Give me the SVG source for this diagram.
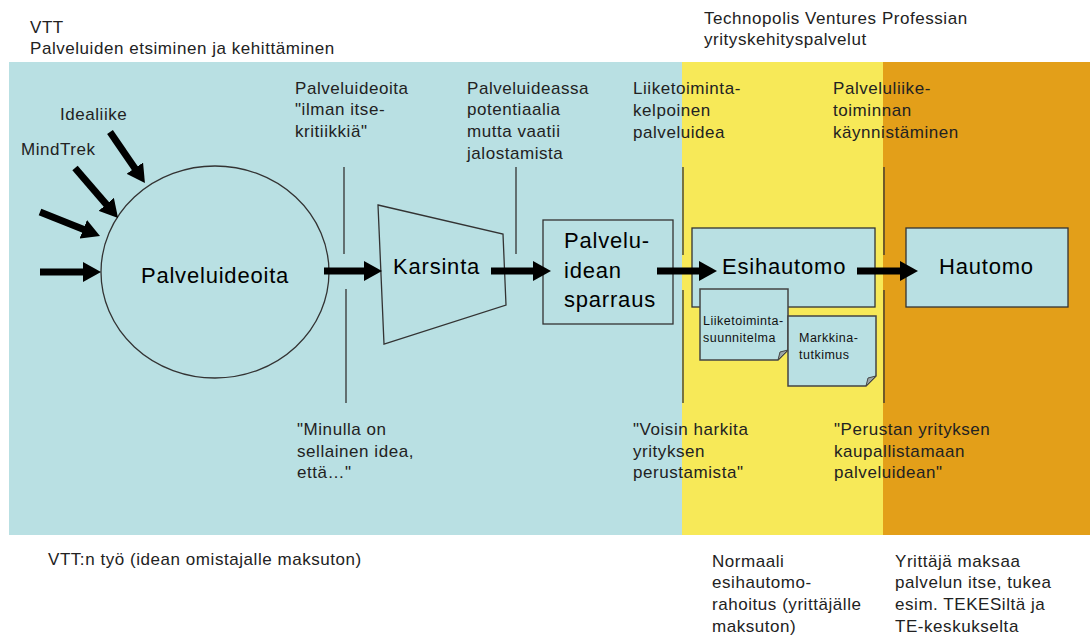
<svg xmlns="http://www.w3.org/2000/svg" width="1090" height="636" viewBox="0 0 1090 636">
<style>
text{font-family:"Liberation Sans",Arial,sans-serif;fill:#222}
.lbl{font-size:17px;letter-spacing:0.55px}
.big{font-size:22px;letter-spacing:0.8px;fill:#000}
.doc{font-size:12.5px;letter-spacing:0.5px;fill:#111}
.node{fill:#b9e0e3;stroke:#333;stroke-width:1.3}
.docshape{fill:#b9e0e3;stroke:#444;stroke-width:1.5}
.fold{fill:#9aa4a6;stroke:#444;stroke-width:1}
.tick{stroke:#333;stroke-width:1.3}
.arr{stroke:#000;stroke-width:7;fill:none;marker-end:url(#ah)}
</style>
<defs>
<marker id="ah" markerUnits="userSpaceOnUse" viewBox="0 0 18 20" refX="8" refY="10" markerWidth="18" markerHeight="20" orient="auto">
<path d="M0,0 L18,10 L0,20 z" fill="#000"/>
</marker>
</defs>
<rect width="1090" height="636" fill="#fff"/>
<g id="bands">
<rect x="9" y="62" width="673" height="473" fill="#b9e0e3"/>
<rect x="682" y="62" width="201" height="473" fill="#f7e958"/>
<rect x="883" y="62" width="207" height="473" fill="#e39f19"/>
</g>
<g id="headings">
<text class="lbl" x="30" y="33">VTT</text>
<text class="lbl" x="30" y="54">Palveluiden etsiminen ja kehittäminen</text>
<text class="lbl" x="704" y="24">Technopolis Ventures Professian</text>
<text class="lbl" x="704" y="45">yrityskehityspalvelut</text>
</g>
<g id="ticks">
<line class="tick" x1="344" y1="167" x2="344" y2="254"/>
<line class="tick" x1="346" y1="289" x2="346" y2="403"/>
<line class="tick" x1="516" y1="167" x2="516" y2="254"/>
<line class="tick" x1="683" y1="167" x2="683" y2="255"/>
<line class="tick" x1="683" y1="290" x2="683" y2="403"/>
<line class="tick" x1="884" y1="167" x2="884" y2="255"/>
<line class="tick" x1="884" y1="290" x2="884" y2="403"/>
</g>
<g id="stage-labels">
<text class="lbl" x="295" y="94">Palveluideoita</text>
<text class="lbl" x="295" y="115">"ilman itse-</text>
<text class="lbl" x="295" y="137">kritiikkiä"</text>
<text class="lbl" x="467" y="94">Palveluideassa</text>
<text class="lbl" x="467" y="115">potentiaalia</text>
<text class="lbl" x="467" y="137">mutta vaatii</text>
<text class="lbl" x="467" y="159">jalostamista</text>
<text class="lbl" x="633" y="94">Liiketoiminta-</text>
<text class="lbl" x="633" y="116">kelpoinen</text>
<text class="lbl" x="633" y="138">palveluidea</text>
<text class="lbl" x="833" y="94">Palveluliike-</text>
<text class="lbl" x="833" y="116">toiminnan</text>
<text class="lbl" x="833" y="138">käynnistäminen</text>
<text class="lbl" x="297" y="435">"Minulla on</text>
<text class="lbl" x="297" y="457">sellainen idea,</text>
<text class="lbl" x="297" y="478">että…"</text>
<text class="lbl" x="633" y="435">"Voisin harkita</text>
<text class="lbl" x="633" y="457">yrityksen</text>
<text class="lbl" x="633" y="478">perustamista"</text>
<text class="lbl" x="834" y="435">"Perustan yrityksen</text>
<text class="lbl" x="834" y="457">kaupallistamaan</text>
<text class="lbl" x="834" y="478">palveluidean"</text>
<text class="lbl" x="60" y="120">Idealiike</text>
<text class="lbl" x="21" y="155">MindTrek</text>
</g>
<g id="footer">
<text class="lbl" x="48" y="565">VTT:n työ (idean omistajalle maksuton)</text>
<text class="lbl" x="712" y="567">Normaali</text>
<text class="lbl" x="712" y="588">esihautomo-</text>
<text class="lbl" x="712" y="610">rahoitus (yrittäjälle</text>
<text class="lbl" x="712" y="632">maksuton)</text>
<text class="lbl" x="895" y="567">Yrittäjä maksaa</text>
<text class="lbl" x="895" y="588">palvelun itse, tukea</text>
<text class="lbl" x="895" y="610">esim. TEKESiltä ja</text>
<text class="lbl" x="895" y="632">TE-keskukselta</text>
</g>
<g id="node-palveluideoita">
<ellipse class="node" cx="215" cy="272" rx="114" ry="106"/>
<text class="big" x="215" y="283" text-anchor="middle">Palveluideoita</text>
</g>
<g id="node-karsinta">
<polygon class="node" points="378,205 503,234 506,305 384,344"/>
<text class="big" x="393" y="274">Karsinta</text>
</g>
<g id="node-sparraus">
<rect class="node" x="543" y="220" width="130" height="104"/>
<text class="big" x="564" y="248">Palvelu-</text>
<text class="big" x="564" y="278">idean</text>
<text class="big" x="564" y="307">sparraus</text>
</g>
<g id="node-esihautomo">
<rect class="node" x="692" y="228" width="183" height="79"/>
<text class="big" x="722" y="274">Esihautomo</text>
</g>
<g id="node-hautomo">
<rect class="node" x="906" y="228" width="162" height="79"/>
<text class="big" x="939" y="274">Hautomo</text>
</g>
<g id="doc-liiketoimintasuunnitelma">
<path class="docshape" d="M700,289 H788 V350 L778,360 H700 Z"/>
<path class="fold" d="M788,350 L778,360 L780,352 Z"/>
<text class="doc" x="703" y="325">Liiketoiminta-</text>
<text class="doc" x="703" y="342">suunnitelma</text>
</g>
<g id="doc-markkinatutkimus">
<path class="docshape" d="M788,316 H876 V376 L866,386 H788 Z"/>
<path class="fold" d="M876,376 L866,386 L868,378 Z"/>
<text class="doc" x="799" y="342">Markkina-</text>
<text class="doc" x="799" y="359">tutkimus</text>
</g>
<g id="connectors">
<line class="arr" x1="40" y1="272" x2="91" y2="272"/>
<line class="arr" x1="40" y1="212" x2="90.7" y2="232.3"/>
<line class="arr" x1="75" y1="168" x2="111.5" y2="210.4"/>
<line class="arr" x1="110" y1="132" x2="139.3" y2="174.8"/>
<line class="arr" x1="324" y1="271" x2="372" y2="271"/>
<line class="arr" x1="491" y1="271" x2="541" y2="271"/>
<line class="arr" x1="657" y1="271" x2="707" y2="271"/>
<line class="arr" x1="857" y1="271" x2="908" y2="271"/>
</g>
</svg>
